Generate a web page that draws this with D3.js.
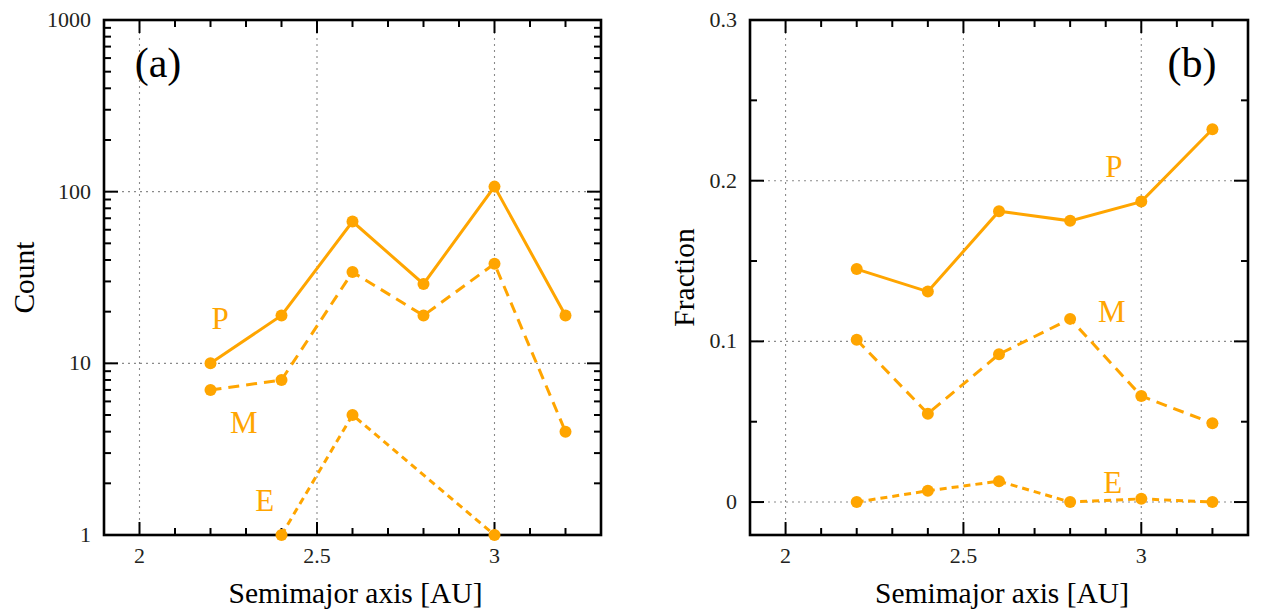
<!DOCTYPE html>
<html><head><meta charset="utf-8">
<script src="https://cdn.jsdelivr.net/npm/d3@7"></script>
<style>
body{margin:0;background:#fff}
svg{display:block}
</style>
</head><body>
<svg id="c" width="1265" height="611"></svg>
<script>
// ---- data ----
const semimajor = [2.2, 2.4, 2.6, 2.8, 3.0, 3.2];
const countP = [10, 19, 67, 29, 107, 19];
const countM = [7, 8, 34, 19, 38, 4];
const countE = [0, 1, 5, 0, 1, 0];
const fracP = [0.145, 0.131, 0.181, 0.175, 0.187, 0.232];
const fracM = [0.101, 0.055, 0.092, 0.114, 0.066, 0.049];
const fracE = [0.0, 0.007, 0.013, 0.0, 0.002, 0.0];
const xTickLabels = [2, 2.5, 3];
const countTickLabels = [1, 10, 100, 1000];
const fracTickLabels = [0, 0.1, 0.2, 0.3];
const seriesNames = ["P", "M", "E"];
const countLabelPos = [[2.227, 18.4], [2.294, 4.55], [2.353, 1.6]];
const fracLabelPos = [[2.923, 0.209], [2.917, 0.119], [2.92, 0.0124]];

const ORANGE = "#ffa500";
const FONT = "'Liberation Serif', 'Times New Roman', Times, 'DejaVu Serif', serif";
const dashes = [null, "11,7", "7,5"];
const svg = d3.select("#c");
const yTop = 20, yBot = 535;

function txt(g) {
  return g.append("text").attr("font-family", FONT).attr("fill", "#231f20");
}

function panel(opts) {
  const g = svg.append("g");
  const x = d3.scaleLinear().domain([1.9, 3.3]).range([opts.left, opts.right]);
  const y = opts.y;
  const L = opts.left, R = opts.right;
  // grid
  const gridStyle = s => s.attr("stroke", "#8a8a8a").attr("stroke-width", 1.1).attr("stroke-dasharray", "2,4").attr("fill", "none");
  xTickLabels.forEach(v => {
    g.append("line").attr("x1", x(v)).attr("x2", x(v)).attr("y1", yTop).attr("y2", yBot).call(gridStyle);
  });
  opts.yTicks.forEach(v => {
    const yy = y(v);
    if (Math.abs(yy - yTop) > 2 && Math.abs(yy - yBot) > 2)
      g.append("line").attr("x1", L).attr("x2", R).attr("y1", yy).attr("y2", yy).call(gridStyle);
  });
  // ticks
  const tk = (x1, y1, x2, y2) => g.append("line").attr("x1", x1).attr("y1", y1).attr("x2", x2).attr("y2", y2).attr("stroke", "#000").attr("stroke-width", 2);
  const xMinor = d3.range(19, 34).map(d => d / 10);
  xMinor.forEach(v => {
    const major = xTickLabels.some(t => Math.abs(t - v) < 1e-6);
    const len = major ? 13 : 7;
    const xx = x(v);
    if (xx <= L + 1 || xx >= R - 1) return;
    tk(xx, yBot, xx, yBot - len);
    tk(xx, yTop, xx, yTop + len);
  });
  opts.yMinor.forEach(v => {
    const yy = y(v);
    if (yy < yTop + 1 || yy > yBot - 1) return;
    tk(L, yy, L + 7, yy); tk(R, yy, R - 7, yy);
  });
  opts.yTicks.forEach(v => {
    const yy = y(v);
    tk(L, yy, L + 14, yy); tk(R, yy, R - 14, yy);
  });
  // tick labels
  xTickLabels.forEach(v => {
    txt(g).attr("x", x(v)).attr("y", 563).attr("text-anchor", "middle").attr("font-size", 22).text(v);
  });
  opts.yTicks.forEach(v => {
    txt(g).attr("x", L - 13).attr("y", y(v) + 7).attr("text-anchor", "end").attr("font-size", 22).text(opts.fmt(v));
  });
  // frame
  g.append("rect").attr("x", L).attr("y", yTop).attr("width", R - L).attr("height", yBot - yTop)
    .attr("fill", "none").attr("stroke", "#000").attr("stroke-width", 2.6);
  // series
  opts.series.forEach((vals, i) => {
    const pts = semimajor.map((s, j) => [s, vals[j]]).filter(p => opts.valid(p[1]));
    const line = d3.line().x(d => x(d[0])).y(d => y(d[1]));
    const p = g.append("path").attr("d", line(pts)).attr("fill", "none").attr("stroke", ORANGE).attr("stroke-width", 3);
    if (dashes[i]) p.attr("stroke-dasharray", dashes[i]);
    g.selectAll(null).data(pts).enter().append("circle")
      .attr("cx", d => x(d[0])).attr("cy", d => y(d[1])).attr("r", 6).attr("fill", ORANGE);
  });
  // labels
  seriesNames.forEach((n, i) => {
    const [lx, ly] = opts.labelPos[i];
    txt(g).attr("x", x(lx)).attr("y", y(ly)).attr("dy", "0.35em").attr("text-anchor", "middle")
      .attr("font-size", 31).attr("fill", ORANGE).text(n);
  });
  txt(g).attr("x", opts.tagX).attr("y", 62).attr("dy", "0.35em").attr("text-anchor", "middle").attr("font-size", 42).attr("fill", "#000").text(opts.tag);
  txt(g).attr("x", (L + R) / 2 + 3).attr("y", 603).attr("text-anchor", "middle").attr("font-size", 29.5).attr("fill", "#000").text("Semimajor axis [AU]");
  txt(g).attr("transform", `translate(${opts.ytitleX},${(yTop + yBot) / 2}) rotate(-90)`)
    .attr("text-anchor", "middle").attr("font-size", 29.5).attr("fill", "#000").text(opts.ytitle);
}

// left panel
const yCount = d3.scaleLog().domain([1, 1000]).range([yBot, yTop]);
const countMinor = [];
[1, 10, 100].forEach(d => { for (let k = 2; k <= 9; k++) countMinor.push(d * k); });
panel({
  left: 104, right: 601, y: yCount, yTicks: countTickLabels, yMinor: countMinor,
  fmt: v => String(v), series: [countP, countM, countE], valid: v => v > 0,
  labelPos: countLabelPos, tag: "(a)", tagX: 158, ytitle: "Count", ytitleX: 34
});

// right panel
const yFrac = d3.scaleLinear().domain([-0.0205, 0.3]).range([yBot, yTop]);
panel({
  left: 750, right: 1248, y: yFrac, yTicks: fracTickLabels, yMinor: [0.05, 0.15, 0.25],
  fmt: v => String(v), series: [fracP, fracM, fracE], valid: v => true,
  labelPos: fracLabelPos, tag: "(b)", tagX: 1192, ytitle: "Fraction", ytitleX: 694
});
</script>
</body></html>
